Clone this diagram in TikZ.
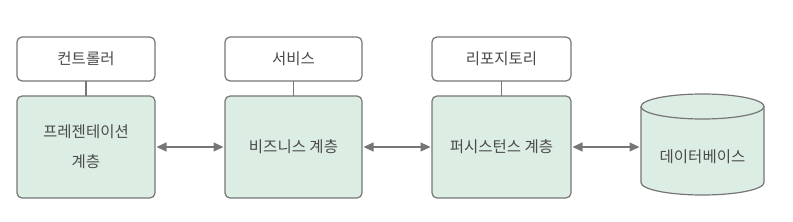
\documentclass[tikz,border=0pt]{standalone}
\usepackage{fontspec}
\setmainfont{Noto Sans CJK KR}
\usetikzlibrary{arrows.meta}
\definecolor{bord}{HTML}{767676}
\definecolor{gfill}{HTML}{DCEDE4}
\definecolor{txt}{HTML}{4A4A4A}
\begin{document}
\begin{tikzpicture}[x=1pt,y=-1pt,
  lab/.style={font=\fontsize{15.5}{30}\selectfont, text=txt, align=center},
  topbox/.style={draw=bord, line width=1.2pt, rounded corners=5pt, fill=white},
  layer/.style={draw=bord, line width=1.2pt, rounded corners=5pt, fill=gfill},
  link/.style={draw=bord, line width=1.2pt},
  biarrow/.style={draw=bord, line width=1.2pt, {Triangle[length=10pt,width=9pt]}-{Triangle[length=10pt,width=9pt]}}]
\useasboundingbox (0,0) rectangle (793,222);
% top boxes
\draw[topbox] (17,37) rectangle (155,81);
\node[lab] (c) at (86,59) {컨트롤러};
\draw[topbox] (225,37) rectangle (362,81);
\node[lab] (s) at (293.5,59) {서비스};
\draw[topbox] (432,37) rectangle (571,81);
\node[lab] (r) at (501.5,59) {리포지토리};
% layers
\draw[layer] (17,96) rectangle (155,198);
\node[lab] (p) at (86,147) {프레젠테이션\\계층};
\draw[layer] (225,96) rectangle (362,198);
\node[lab] (b) at (293.5,147) {비즈니스 계층};
\draw[layer] (432,96) rectangle (571,198);
\node[lab] (pe) at (501.5,147) {퍼시스턴스 계층};
% vertical links
\coordinate (c1) at (86,81); \coordinate (c2) at (86,96);
\coordinate (s1) at (293.5,81); \coordinate (s2) at (293.5,96);
\coordinate (r1) at (501.5,81); \coordinate (r2) at (501.5,96);
\draw[link] (c1) -- (c2);
\draw[link] (s1) -- (s2);
\draw[link] (r1) -- (r2);
% cylinder
\draw[draw=bord, line width=1.2pt, fill=gfill]
  (641,106.5) -- (641,182.5) arc[start angle=180, end angle=360, x radius=61.5, y radius=-12.5]
  -- (764,106.5) arc[start angle=0, end angle=180, x radius=61.5, y radius=-12.5] -- cycle;
\draw[draw=bord, line width=1.2pt] (641,106.5) arc[start angle=180, end angle=360, x radius=61.5, y radius=-12.5];
\node[lab] (db) at (702.5,157) {데이터베이스};
% arrows
\coordinate (a1) at (156.5,147); \coordinate (a2) at (223.5,147);
\coordinate (b1) at (363.5,147); \coordinate (b2) at (430.5,147);
\coordinate (d1) at (572.5,147); \coordinate (d2) at (639.5,147);
\draw[biarrow] (a1) -- (a2);
\draw[biarrow] (b1) -- (b2);
\draw[biarrow] (d1) -- (d2);
\end{tikzpicture}
\end{document}
